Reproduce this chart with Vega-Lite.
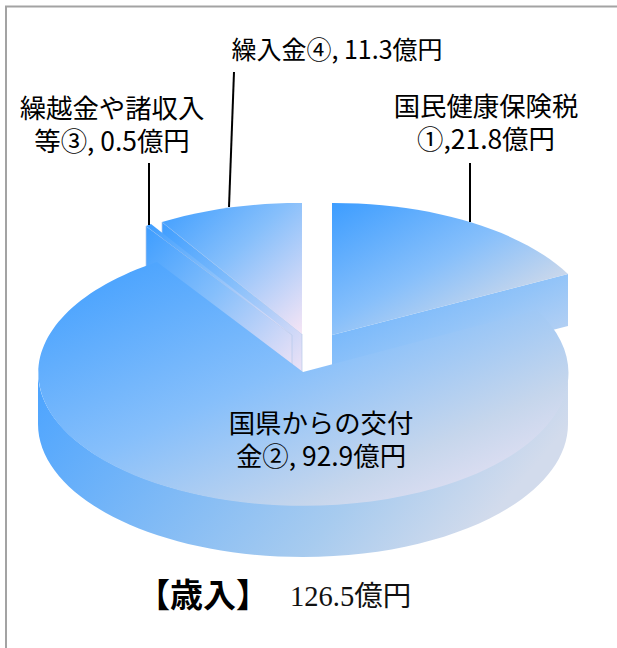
{
"$schema":"https://vega.github.io/schema/vega-lite/v6.json",
"width":617,"height":648,"padding":0,"background":"white",
"autosize":{"type":"none"},
"config":{"view":{"stroke":null}},
"data":{"values":[
{"no":1,"label":"国民健康保険税\n①,21.8億円","value":21.8},
{"no":2,"label":"国県からの交付\n金②, 92.9億円","value":92.9},
{"no":3,"label":"繰越金や諸収入\n等③, 0.5億円","value":0.5},
{"no":4,"label":"繰入金④, 11.3億円","value":11.3},
{"no":0,"label":"【歳入】","value":126.5,"total":"126.5億円"}
]},
"layer":[
{"transform":[{"filter":"datum.no==0"}],"mark":{"type":"point","filled":false,"opacity":1,"size":40000,"stroke":"#a3a3a3","strokeWidth":2},
 "encoding":{"shape":{"value":"M-3.025 3.3L-3.025 -3.175L3.1 -3.175"}}},
{"transform":[{"filter":"datum.no==4"}],"mark":{"type":"point","filled":true,"opacity":1,"size":40000,"stroke":"#b5c9ea","strokeWidth":0.7,"fill":{"gradient":"linear","x1":0,"y1":0,"x2":1,"y2":1,"stops":[{"offset":0,"color":"#3d9dff"},{"offset":0.45,"color":"#86bffb"},{"offset":1,"color":"#f6e5f5"}]}},
 "encoding":{"shape":{"value":"M-1.465 -1.02L-0.065 0.1L-0.065 0.62L-1.465 -0.5Z"}}},
{"transform":[{"filter":"datum.no==4"}],"mark":{"type":"point","filled":true,"opacity":1,"size":40000,"fill":{"gradient":"linear","x1":0,"y1":0,"x2":1,"y2":1,"stops":[{"offset":0,"color":"#3d9dff"},{"offset":0.45,"color":"#86bffb"},{"offset":1,"color":"#f6e5f5"}]}},
 "encoding":{"shape":{"value":"M-0.065 0.1L-1.465 -1.02A2.65 1.33 0 0 1 -0.065 -1.21Z"}}},
{"transform":[{"filter":"datum.no==3"}],"mark":{"type":"point","filled":true,"opacity":1,"size":40000,"stroke":"#b5c9ea","strokeWidth":0.7,"fill":{"gradient":"linear","x1":0,"y1":0,"x2":1,"y2":1,"stops":[{"offset":0,"color":"#3d9dff"},{"offset":0.45,"color":"#86bffb"},{"offset":1,"color":"#f6e5f5"}]}},
 "encoding":{"shape":{"value":"M-1.625 -0.98L-0.165 0.11L-0.165 0.63L-1.625 -0.46Z"}}},
{"transform":[{"filter":"datum.no==3"}],"mark":{"type":"point","filled":true,"opacity":1,"size":40000,"fill":{"gradient":"linear","x1":0,"y1":0,"x2":1,"y2":1,"stops":[{"offset":0,"color":"#3d9dff"},{"offset":0.45,"color":"#86bffb"},{"offset":1,"color":"#f6e5f5"}]}},
 "encoding":{"shape":{"value":"M-1.625 -0.98L-1.575 -1L-0.165 0.11Z"}}},
{"transform":[{"filter":"datum.no==1"}],"mark":{"type":"point","filled":true,"opacity":1,"size":40000,"fill":{"gradient":"linear","x1":0,"y1":0,"x2":1,"y2":1,"stops":[{"offset":0,"color":"#5dadff"},{"offset":0.5,"color":"#93c4f8"},{"offset":1,"color":"#d5dcee"}]}},
 "encoding":{"shape":{"value":"M0.235 0.11L2.595 -0.5L2.595 0.02L0.235 0.63Z"}}},
{"transform":[{"filter":"datum.no==1"}],"mark":{"type":"point","filled":true,"opacity":1,"size":40000,"fill":{"gradient":"linear","x1":0,"y1":0,"x2":1,"y2":1,"stops":[{"offset":0,"color":"#3d9dff"},{"offset":0.45,"color":"#86bffb"},{"offset":0.75,"color":"#c6d6ec"},{"offset":1,"color":"#ece3f5"}]}},
 "encoding":{"shape":{"value":"M0.235 0.11L0.235 -1.21A2.65 1.33 0 0 1 2.595 -0.5Z"}}},
{"transform":[{"filter":"datum.no==2"}],"mark":{"type":"point","filled":true,"opacity":1,"size":40000,"fill":{"gradient":"linear","x1":0,"y1":0,"x2":1,"y2":0.3,"stops":[{"offset":0,"color":"#4aa3ff"},{"offset":0.73,"color":"#a7cbef"},{"offset":1,"color":"#d2dbec"}]}},
 "encoding":{"shape":{"value":"M-2.705 0.48L-2.705 1A2.65 1.33 0 0 0 2.595 1L2.595 0.48A2.65 1.33 0 0 1 -2.705 0.48Z"}}},
{"transform":[{"filter":"datum.no==2"}],"mark":{"type":"point","filled":true,"opacity":1,"size":40000,"fill":{"gradient":"linear","x1":0,"y1":0,"x2":1,"y2":1,"stops":[{"offset":0,"color":"#3d9dff"},{"offset":0.45,"color":"#86bffb"},{"offset":0.75,"color":"#c6d6ec"},{"offset":0.95,"color":"#ece3f5"}]}},
 "encoding":{"shape":{"value":"M-0.055 0.48L2.285 -0.14A2.65 1.33 0 1 1 -1.515 -0.62Z"}}},
{"transform":[{"filter":"datum.no==1"}],"mark":{"type":"point","filled":false,"opacity":1,"size":40000,"stroke":"#000000","strokeWidth":2},
 "encoding":{"shape":{"value":"M1.615 -1.61L1.615 -1.02"}}},
{"transform":[{"filter":"datum.no==3"}],"mark":{"type":"point","filled":false,"opacity":1,"size":40000,"stroke":"#000000","strokeWidth":2},
 "encoding":{"shape":{"value":"M-1.595 -1.61L-1.595 -0.99"}}},
{"transform":[{"filter":"datum.no==4"}],"mark":{"type":"point","filled":false,"opacity":1,"size":40000,"stroke":"#000000","strokeWidth":2},
 "encoding":{"shape":{"value":"M-0.745 -2.52L-0.795 -1.17"}}},
{"mark":{"type":"text","font":"Noto Sans CJK JP","fontSize":26.4,"lineHeight":33,"lineBreak":"\n","align":"center","baseline":"middle","color":"#000000"},
 "transform":[{"filter":"datum.no>0 && datum.no<4"}],
 "encoding":{
  "text":{"field":"label"},
  "x":{"field":"value","type":"quantitative","axis":null,"scale":{"type":"linear","zero":false,"nice":false,"domain":[0.5,11.3,21.8,92.9,126.5],"range":[112,337,486,321,203]}},
  "y":{"field":"value","type":"quantitative","axis":null,"scale":{"type":"linear","zero":false,"nice":false,"domain":[0.5,11.3,21.8,92.9,126.5],"range":[110,51,108,425,597]}}
 }},
{"mark":{"type":"text","font":"Noto Sans CJK JP","fontSize":25,"align":"center","baseline":"middle","color":"#000000"},
 "transform":[{"filter":"datum.no==4"}],
 "encoding":{
  "text":{"field":"label"},
  "x":{"field":"value","type":"quantitative","axis":null,"scale":{"type":"linear","zero":false,"nice":false,"domain":[0.5,11.3,21.8,92.9,126.5],"range":[112,337,486,321,203]}},
  "y":{"field":"value","type":"quantitative","axis":null,"scale":{"type":"linear","zero":false,"nice":false,"domain":[0.5,11.3,21.8,92.9,126.5],"range":[110,51,108,425,597]}}
 }},
{"mark":{"type":"text","font":"Noto Sans CJK JP","fontWeight":"bold","fontSize":33,"align":"center","baseline":"middle","color":"#000000"},
 "transform":[{"filter":"datum.no==0"}],
 "encoding":{
  "text":{"field":"label"},
  "x":{"field":"value","type":"quantitative","axis":null,"scale":{"type":"linear","zero":false,"nice":false,"domain":[0.5,11.3,21.8,92.9,126.5],"range":[112,337,486,321,203]}},
  "y":{"field":"value","type":"quantitative","axis":null,"scale":{"type":"linear","zero":false,"nice":false,"domain":[0.5,11.3,21.8,92.9,126.5],"range":[110,51,108,425,597]}}
 }},
{"mark":{"type":"text","font":"Liberation Serif, Noto Sans CJK JP","fontSize":28.5,"align":"left","baseline":"middle","dx":87,"color":"#111111"},
 "transform":[{"filter":"datum.no==0"}],
 "encoding":{
  "text":{"field":"total"},
  "x":{"field":"value","type":"quantitative","axis":null,"scale":{"type":"linear","zero":false,"nice":false,"domain":[0.5,11.3,21.8,92.9,126.5],"range":[112,337,486,321,203]}},
  "y":{"field":"value","type":"quantitative","axis":null,"scale":{"type":"linear","zero":false,"nice":false,"domain":[0.5,11.3,21.8,92.9,126.5],"range":[110,51,108,425,597]}}
 }}
]
}
